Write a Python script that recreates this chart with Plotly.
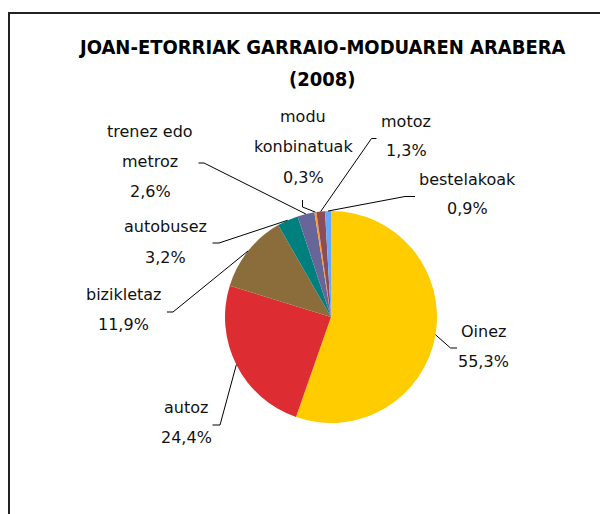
import math
import plotly.graph_objects as go

# ---- data ----
categories = ["Oinez", "autoz", "bizikletaz", "autobusez", "trenez edo<br>metroz",
              "modu<br>konbinatuak", "motoz", "bestelakoak"]
values = [55.3, 24.4, 11.9, 3.2, 2.6, 0.3, 1.3, 0.9]
colors = ["#FFCC00", "#DD2D33", "#8B6D3B", "#007F7F", "#666699",
          "#FF9933", "#8B4E57", "#66A8FF"]
title_lines = ["JOAN-ETORRIAK GARRAIO-MODUAREN ARABERA", "(2008)"]

# ---- layout constants (pixels in the page; the page body has an 8px margin) ----
OFF = 8
W, H = 600, 506
CX, CY, R = 331, 317, 106
LINE_GAP = 30
label_pos = [(483, 331), (186, 407), (123, 294), (166, 227), (150, 131),
             (303, 117), (406, 121), (467, 179)]
lead_start = [(457, 348), (212.5, 425), (167, 312), (212.5, 243), (198.5, 163),
              (302.5, 200), (376.5, 138.5), (415, 196.5)]
lead_corner = [(450.5, 348), (220, 425), (173, 312), (219, 243), (204, 163),
               (302.5, 207), (371.5, 138.5), (405, 196.5)]


def px(x):
    return (x - OFF) / W


def py(y):
    return 1 - (y - OFF) / H


fig = go.Figure(go.Pie(
    labels=[c.replace("<br>", " ") for c in categories],
    values=values,
    sort=False,
    direction="clockwise",
    rotation=0,
    marker=dict(colors=colors, line=dict(width=0)),
    textinfo="none",
    hoverinfo="label+percent",
    showlegend=False,
    domain=dict(x=[px(CX - R), px(CX + R)], y=[py(CY + R), py(CY - R)]),
))

annotations = []
shapes = []
LABEL_FONT = dict(family="DejaVu Sans", size=16, color="#111111")

total = sum(values)
cum = 0.0
for i, (cat, v) in enumerate(zip(categories, values)):
    mid = (cum + v / 2) / total * 2 * math.pi
    cum += v
    tx = CX + R * math.sin(mid)
    ty = CY - R * math.cos(mid)
    lines = cat.split("<br>") + [f"{v:.1f}".replace(".", ",") + "%"]
    lx, ly = label_pos[i]
    for k, t in enumerate(lines):
        annotations.append(dict(
            x=px(lx), y=py(ly + k * LINE_GAP), xref="paper", yref="paper",
            text=t, showarrow=False, xanchor="center", yanchor="middle",
            font=LABEL_FONT,
        ))
    sx, sy = lead_start[i]
    kx, ky = lead_corner[i]
    shapes.append(dict(
        type="path", xref="paper", yref="paper",
        path=f"M {px(sx)} {py(sy)} L {px(kx)} {py(ky)} L {px(tx)} {py(ty)}",
        line=dict(color="#000000", width=1),
    ))

# title
TITLE_FONT = dict(family="DejaVu Sans Condensed", size=20, color="#000000")
for k, t in enumerate(title_lines):
    annotations.append(dict(
        x=px(322), y=py(47 + k * 32), xref="paper", yref="paper", text=f"<b>{t}</b>",
        showarrow=False, xanchor="center", yanchor="middle", font=TITLE_FONT,
    ))

# outer chart frame
shapes.append(dict(type="rect", xref="paper", yref="paper",
                   x0=px(9), y0=py(13), x1=1.1, y1=-0.1,
                   line=dict(color="#222222", width=2), fillcolor="rgba(0,0,0,0)"))

fig.update_layout(
    width=W, height=H,
    margin=dict(l=0, r=0, t=0, b=0),
    paper_bgcolor="white",
    plot_bgcolor="white",
    annotations=annotations,
    shapes=shapes,
)

fig.write_html("out.html")
